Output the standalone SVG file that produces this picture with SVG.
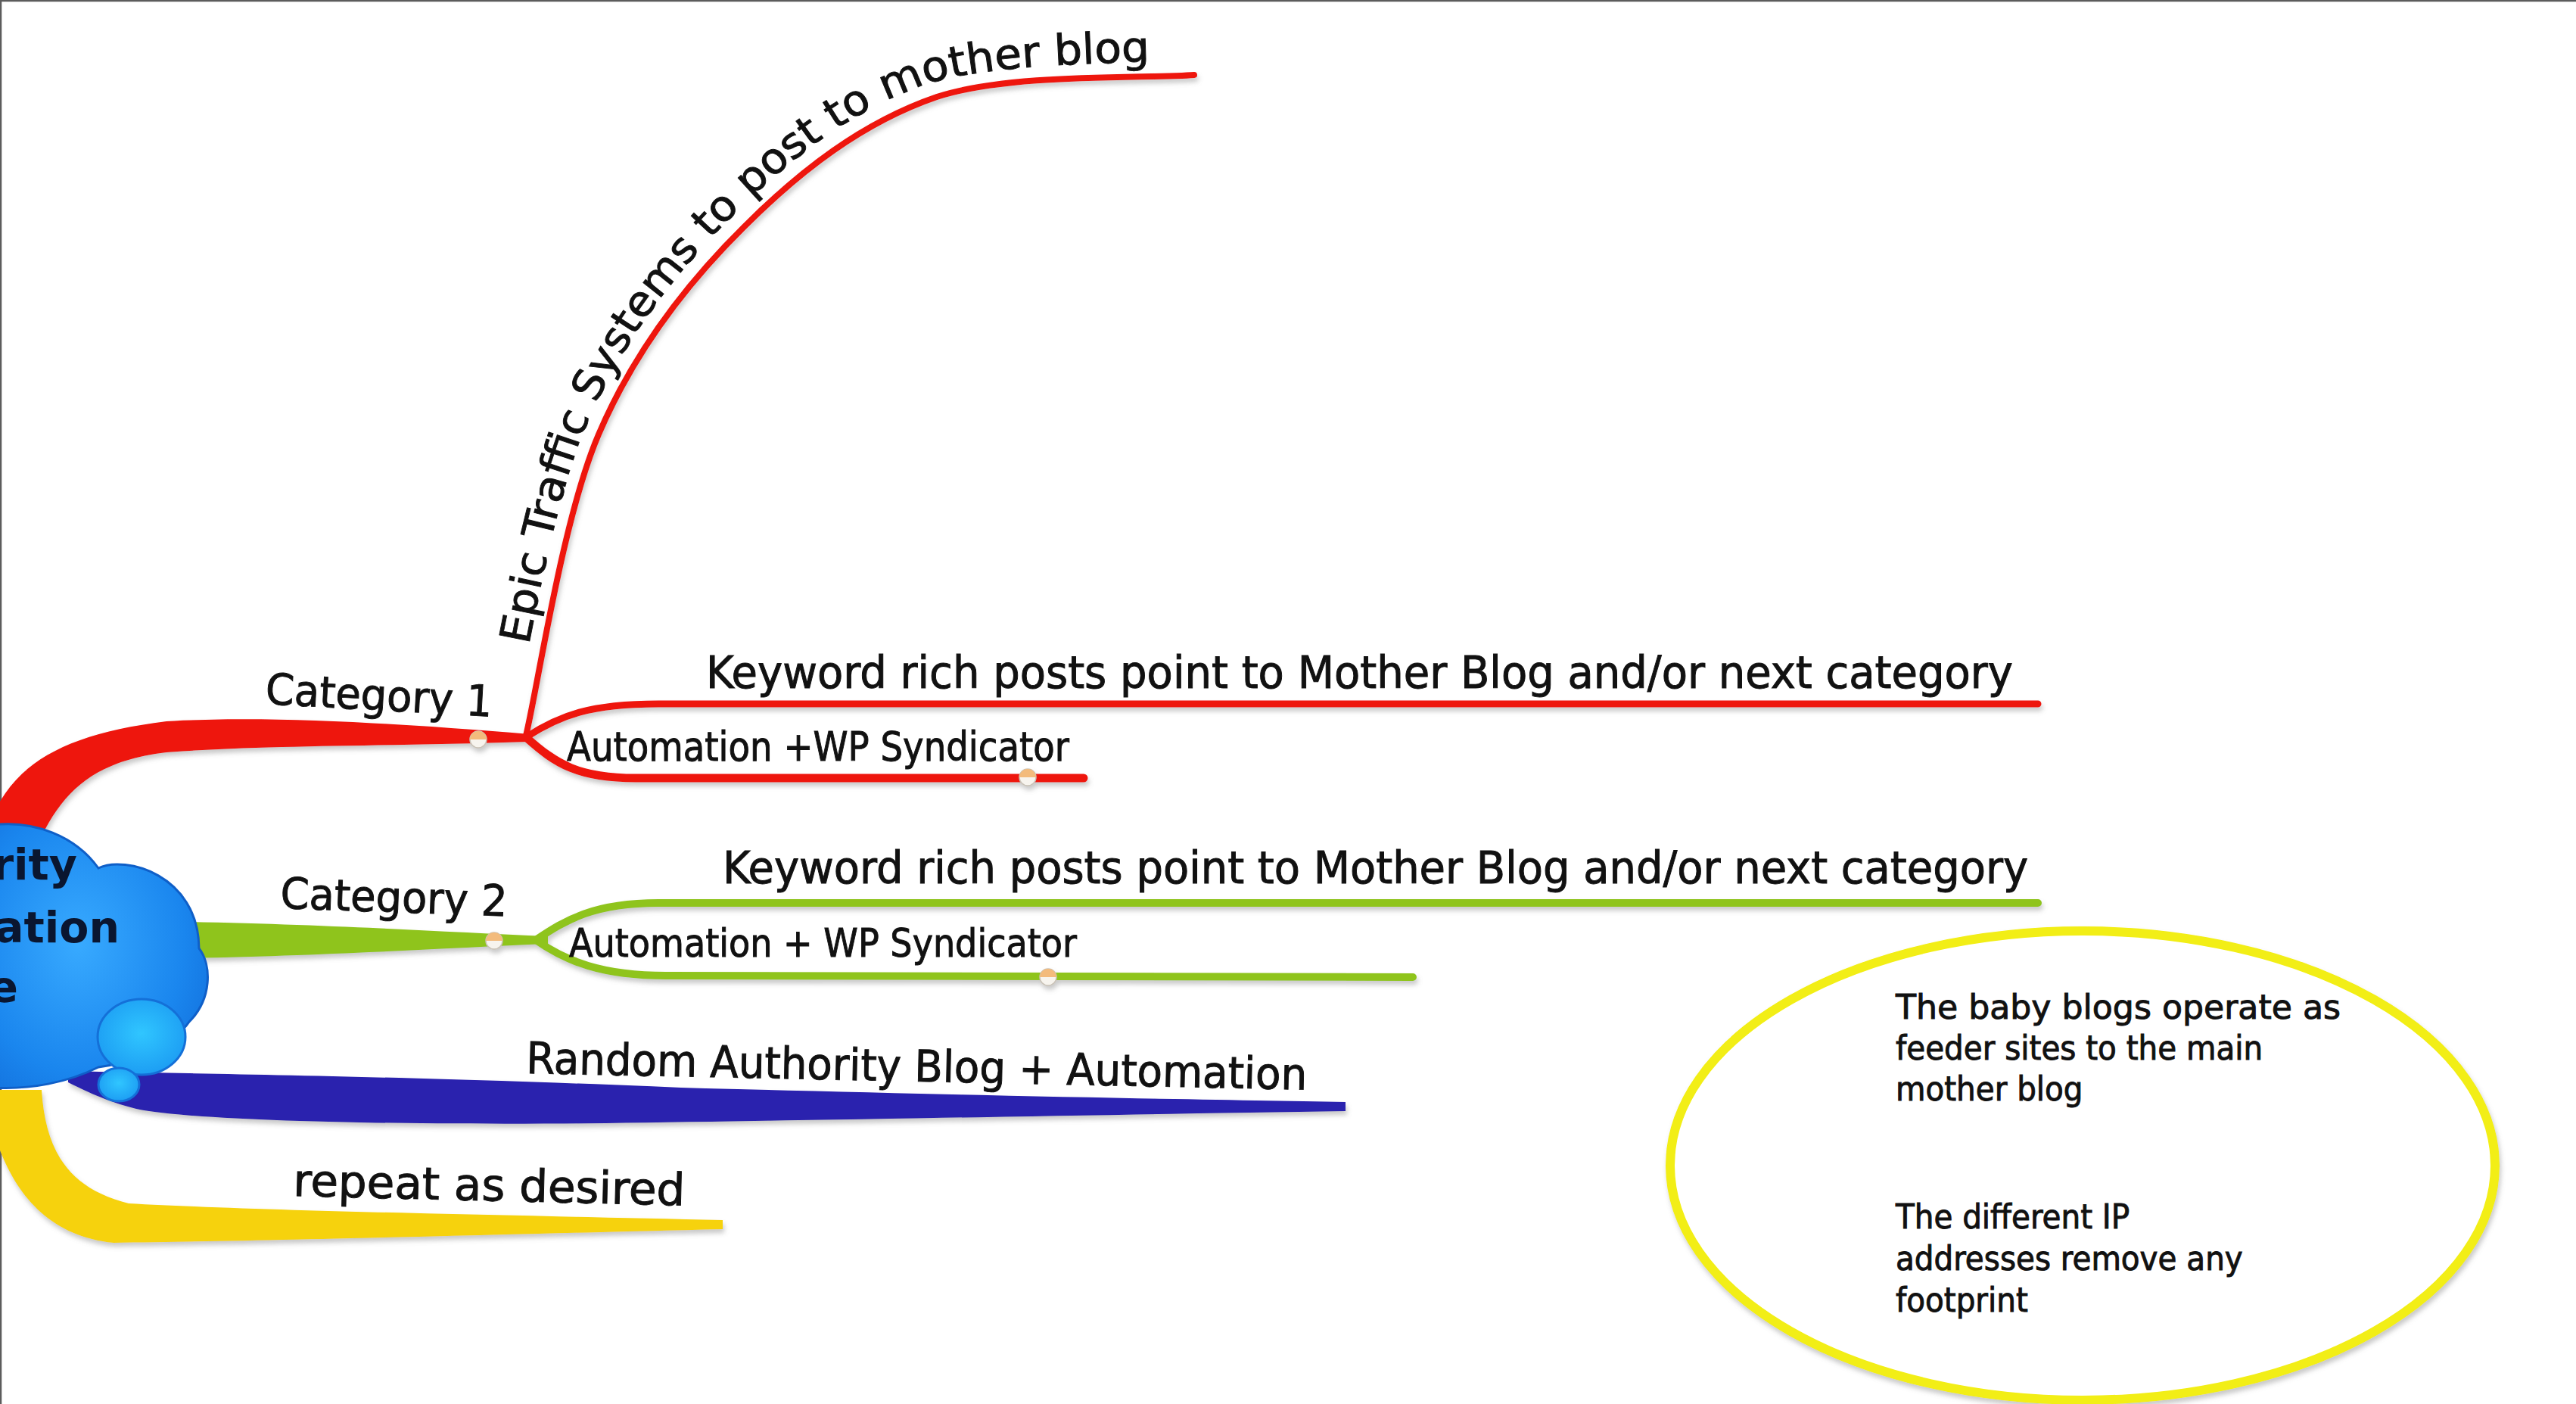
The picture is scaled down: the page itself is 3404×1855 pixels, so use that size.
<svg xmlns="http://www.w3.org/2000/svg" width="3404" height="1855" viewBox="0 0 3404 1855">
<style>
.t{font-family:"DejaVu Sans Condensed","DejaVu Sans","Noto Sans",sans-serif;fill:#111111;stroke:#111111;stroke-width:0.9px;}
.ct{font-family:"DejaVu Sans","Liberation Sans",sans-serif;font-weight:bold;font-size:57px;fill:#0a1630;}
.red{fill:none;stroke:#ee1410;stroke-linecap:round;}
.grn{fill:none;stroke:#8fc41f;stroke-linecap:round;}
.mk-bot{fill:#f7f4ee;stroke:#c9c2b6;stroke-width:1.5}
.mk-top{fill:#f3bb7c}
</style>
<defs>
<filter id="sh" filterUnits="userSpaceOnUse" x="0" y="0" width="3404" height="1855">
<feDropShadow dx="2" dy="5" stdDeviation="3" flood-color="#777" flood-opacity="0.4"/>
</filter>
<radialGradient id="cloudG" cx="0.4" cy="0.45" r="0.7">
<stop offset="0" stop-color="#38aaff"/>
<stop offset="0.7" stop-color="#1a86ee"/>
<stop offset="1" stop-color="#1372de"/>
</radialGradient>
<radialGradient id="bubG" cx="0.5" cy="0.45" r="0.6">
<stop offset="0" stop-color="#30c6ff"/>
<stop offset="1" stop-color="#1b9af2"/>
</radialGradient>
<path id="epicTextPath" d="M675,968 C692,902 725,680 773,566 C821,452 894,359 969,284 C1045,208 1131,142 1231,109 C1332,80 1520,84 1576,79"/>
</defs>
<rect width="3404" height="1855" fill="#ffffff"/>
<path d="M1,1855 V1 H3404" fill="none" stroke="#5c5c5c" stroke-width="2.5"/>

<g id="connectors" filter="url(#sh)">
<path d="M-5,1068 C30,1000 100,968 220,953 C350,945 520,955 700,970 L700,980 C520,986 350,984 220,994 C130,1005 90,1040 60,1095 L-5,1095 Z" fill="#ee1410"/>
<path class="red" stroke-width="8" d="M695,972 C711,906 743,686 791,574 C839,462 908,374 983,300 C1057,226 1139,162 1238,128 C1336,96 1520,104 1578,99"/>
<path class="red" stroke-width="9" d="M695,974 C740,945 780,930 870,930 L2693,930"/>
<path class="red" stroke-width="11" d="M695,974 C735,1010 765,1028 840,1028 L1432,1028"/>
<path d="M250,1218 C450,1222 600,1232 724,1237 L724,1247 C600,1252 450,1262 250,1266 Z" fill="#8fc41f"/>
<path class="grn" stroke-width="10" d="M708,1242 C748,1215 785,1193 870,1193 L2693,1193"/>
<path class="grn" stroke-width="10" d="M708,1242 C748,1270 795,1289 880,1289 L1867,1291"/>
<path d="M90,1415 C200,1418 500,1420 900,1437 C1300,1448 1600,1453 1778,1456 L1778,1468 C1500,1472 1100,1480 800,1484 C500,1487 250,1480 180,1465 C140,1455 110,1440 90,1430 Z" fill="#2b20ae"/>
<path d="M0,1440 L55,1440 C60,1520 90,1570 170,1590 C350,1600 700,1606 955,1612 L955,1624 C700,1630 350,1640 150,1642 C70,1634 25,1584 0,1520 Z" fill="#f6d20e"/>
<g id="mk1"><circle class="mk-bot" cx="632" cy="977" r="11"/><path class="mk-top" d="M621,977 A11,11 0 0 1 643,977 Z"/></g>
<g id="mk2"><circle class="mk-bot" cx="653" cy="1243" r="11"/><path class="mk-top" d="M642,1243 A11,11 0 0 1 664,1243 Z"/></g>
<g id="mk3"><circle class="mk-bot" cx="1358" cy="1027" r="11"/><path class="mk-top" d="M1347,1027 A11,11 0 0 1 1369,1027 Z"/></g>
<g id="mk4"><circle class="mk-bot" cx="1385" cy="1291" r="11"/><path class="mk-top" d="M1374,1291 A11,11 0 0 1 1396,1291 Z"/></g>
</g>

<g id="central">
<path d="M-10,1090 C45,1083 100,1105 130,1147 C165,1130 262,1155 263,1253 C280,1275 280,1320 250,1350 C230,1380 170,1405 130,1410 C90,1430 40,1440 -10,1437 Z" fill="url(#cloudG)" stroke="#0f5fc8" stroke-width="3"/>
<ellipse cx="187" cy="1370" rx="58" ry="50" fill="url(#bubG)" stroke="#1470d8" stroke-width="3"/>
<ellipse cx="157" cy="1433" rx="27" ry="22" fill="url(#bubG)" stroke="#1470d8" stroke-width="3"/>
<text class="ct" x="102" y="1162" text-anchor="end">rity</text>
<text class="ct" x="158" y="1245" text-anchor="end">ation</text>
<text class="ct" x="24" y="1324" text-anchor="end">e</text>
</g>

<g id="category1">
<text class="t" x="350" y="930" font-size="57" textLength="300" lengthAdjust="spacingAndGlyphs" transform="rotate(3.2 350 930)">Category 1</text>
</g>
<g id="epic">
<text class="t" font-size="56"><textPath href="#epicTextPath" startOffset="118" textLength="1250" lengthAdjust="spacingAndGlyphs">Epic Traffic Systems to post to mother blog</textPath></text>
</g>
<g id="keyword1">
<text class="t" x="933" y="909" font-size="58" textLength="1727" lengthAdjust="spacingAndGlyphs">Keyword rich posts point to Mother Blog and/or next category</text>
</g>
<g id="automation1">
<text class="t" x="749" y="1005" font-size="53" textLength="664" lengthAdjust="spacingAndGlyphs">Automation +WP Syndicator</text>
</g>
<g id="category2">
<text class="t" x="370" y="1200" font-size="57" textLength="300" lengthAdjust="spacingAndGlyphs" transform="rotate(2 370 1200)">Category 2</text>
</g>
<g id="keyword2">
<text class="t" x="955" y="1167" font-size="58" textLength="1725" lengthAdjust="spacingAndGlyphs">Keyword rich posts point to Mother Blog and/or next category</text>
</g>
<g id="automation2">
<text class="t" x="752" y="1264" font-size="52" textLength="671" lengthAdjust="spacingAndGlyphs">Automation + WP Syndicator</text>
</g>
<g id="random">
<text class="t" x="695" y="1418" font-size="58" textLength="1032" lengthAdjust="spacingAndGlyphs" transform="rotate(1.2 695 1418)">Random Authority Blog + Automation</text>
</g>
<g id="repeat">
<text class="t" x="387" y="1580" font-size="59" textLength="518" lengthAdjust="spacingAndGlyphs" transform="rotate(1.4 387 1580)">repeat as desired</text>
</g>

<g id="note">
<ellipse cx="2752" cy="1540" rx="545" ry="310" fill="#ffffff" stroke="#f2ee12" stroke-width="12" filter="url(#sh)"/>
<text class="t" font-size="45">
<tspan x="2505" y="1346" textLength="588" lengthAdjust="spacingAndGlyphs">The baby blogs operate as</tspan>
<tspan x="2505" y="1400">feeder sites to the main</tspan>
<tspan x="2505" y="1454">mother blog</tspan>
<tspan x="2505" y="1623">The different IP</tspan>
<tspan x="2505" y="1678">addresses remove any</tspan>
<tspan x="2505" y="1733">footprint</tspan>
</text>
</g>
</svg>
